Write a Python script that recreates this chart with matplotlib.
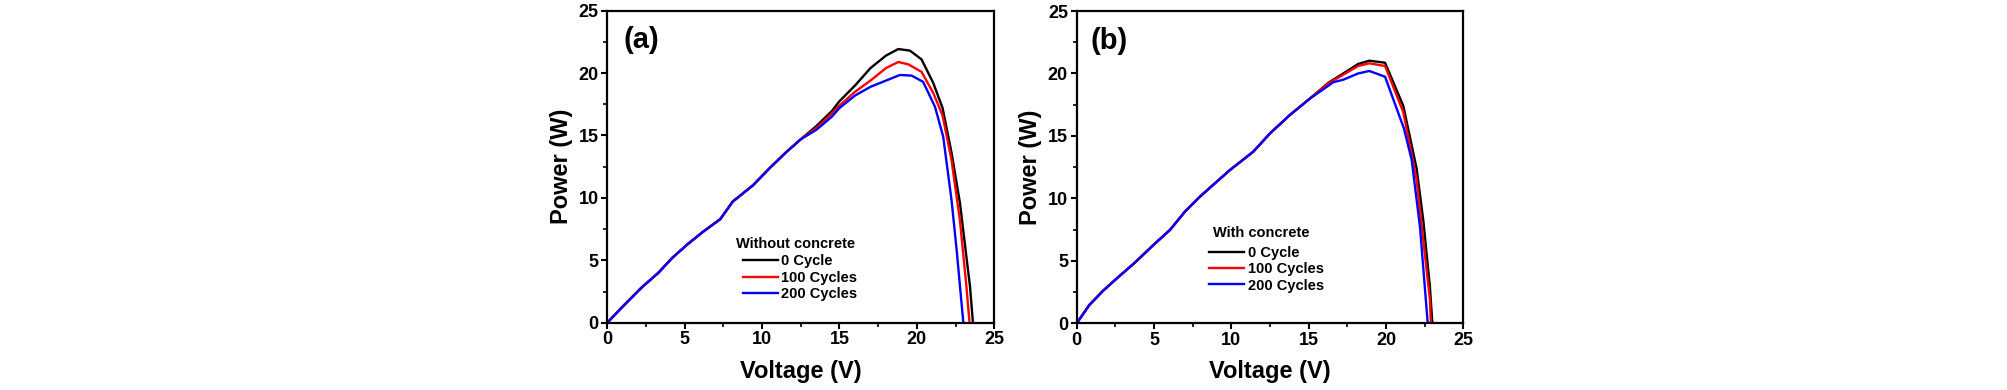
import matplotlib
matplotlib.use("Agg")
import matplotlib.pyplot as plt
from matplotlib.ticker import MultipleLocator

plt.rcParams['font.family'] = ['Liberation Sans', 'DejaVu Sans']
plt.rcParams['font.weight'] = 'bold'

# ---- Panel (a): without concrete ----
a_v_common = [0, 1.0, 2.2, 3.3, 4.2, 5.2, 6.2, 7.3, 8.1, 9.4, 10.5, 11.5, 12.5]
a_p_common = [0, 1.3, 2.8, 4.0, 5.2, 6.3, 7.3, 8.3, 9.7, 11.0, 12.4, 13.6, 14.7]

a_v0 = [13.5, 14.5, 15.0, 16.0, 17.0, 18.0, 18.8, 19.55, 20.3, 21.06, 21.66, 22.24, 22.78, 23.43, 23.62]
a_p0 = [15.75, 16.95, 17.75, 19.0, 20.4, 21.4, 21.93, 21.8, 21.1, 19.2, 17.2, 13.6, 9.6, 2.9, 0.0]

a_v100 = [13.5, 14.5, 15.0, 16.0, 17.0, 18.0, 18.8, 19.45, 20.3, 21.06, 21.66, 22.24, 22.78, 23.2, 23.4]
a_p100 = [15.6, 16.75, 17.4, 18.5, 19.4, 20.4, 20.89, 20.7, 20.1, 18.4, 16.6, 13.0, 8.2, 2.9, 0.0]

a_v200 = [13.5, 14.5, 15.0, 16.0, 17.0, 18.0, 18.9, 19.66, 20.4, 21.17, 21.7, 22.24, 22.57, 23.0]
a_p200 = [15.45, 16.5, 17.2, 18.2, 18.9, 19.4, 19.85, 19.8, 19.3, 17.3, 14.9, 9.8, 5.8, 0.0]

# ---- Panel (b): with concrete ----
b_v_common = [0, 0.82, 1.7, 2.6, 3.8, 4.96, 6.03, 7.0, 7.97, 8.84, 9.91, 11.42, 12.5, 13.79, 15.09]
b_p_common = [0, 1.47, 2.6, 3.6, 4.9, 6.27, 7.47, 8.94, 10.14, 11.1, 12.27, 13.74, 15.2, 16.68, 18.0]

b_v0 = [16.27, 17.24, 18.2, 18.92, 19.94, 21.12, 21.98, 22.41, 22.84, 23.0]
b_p0 = [19.25, 20.0, 20.76, 21.02, 20.86, 17.4, 12.4, 8.27, 2.93, 0.0]

b_v100 = [16.27, 17.24, 18.2, 18.92, 19.94, 21.12, 21.98, 22.84, 22.9]
b_p100 = [19.2, 19.9, 20.6, 20.81, 20.6, 16.9, 11.5, 1.9, 0.0]

b_v200 = [16.6, 17.24, 18.2, 18.92, 19.94, 21.16, 21.66, 22.2, 22.7]
b_p200 = [19.3, 19.5, 20.0, 20.2, 19.74, 15.6, 13.1, 7.7, 0.0]

labels = ['0 Cycle', '100 Cycles', '200 Cycles']
colors = ['black', 'red', 'blue']

fig = plt.figure(figsize=(20.08, 3.9), dpi=100)
ax_a = fig.add_axes([607.3 / 2008, (390 - 322.7) / 390, 387 / 2008, 312 / 390])
ax_b = fig.add_axes([1076.7 / 2008, (390 - 323.3) / 390, 386.6 / 2008, 312.3 / 390])

panels = [
    (ax_a, a_v_common, a_p_common, [(a_v0, a_p0), (a_v100, a_p100), (a_v200, a_p200)],
     '(a)', 'Without concrete', (0.041, 0.95), (0.3326, 0.239), (0.35, 0.2186)),
    (ax_b, b_v_common, b_p_common, [(b_v0, b_p0), (b_v100, b_p100), (b_v200, b_p200)],
     '(b)', 'With concrete', (0.036, 0.95), (0.3526, 0.276), (0.342, 0.247)),
]

for ax, vc, pc, series, tag, title, tagpos, titlepos, legpos in panels:
    handles = []
    for (v, p), lab, col in zip(series, labels, colors):
        h, = ax.plot(list(vc) + list(v), list(pc) + list(p), color=col, lw=1.7, label=lab)
        handles.append(h)
    ax.set_xlim(0, 25)
    ax.set_ylim(0, 25)
    ax.xaxis.set_major_locator(MultipleLocator(5))
    ax.yaxis.set_major_locator(MultipleLocator(5))
    ax.xaxis.set_minor_locator(MultipleLocator(2.5))
    ax.yaxis.set_minor_locator(MultipleLocator(2.5))
    ax.tick_params(which='major', direction='out', length=4.3, width=1.5, labelsize=13, pad=2)
    ax.tick_params(which='minor', direction='out', length=2.9, width=1.2)
    ax.tick_params(top=False, right=False, which='both')
    for lbl in ax.get_xticklabels() + ax.get_yticklabels():
        lbl.set_fontweight('bold')
    for s in ax.spines.values():
        s.set_linewidth(1.6)
    ax.set_xlabel('Voltage (V)', fontsize=17, fontweight='bold', labelpad=8)
    ax.set_ylabel('Power (W)', fontsize=17, fontweight='bold', labelpad=4)
    ax.text(tagpos[0], tagpos[1], tag, transform=ax.transAxes, fontsize=21,
            fontweight='bold', va='top', ha='left')
    ax.text(titlepos[0], titlepos[1], title, transform=ax.transAxes, fontsize=10.5,
            fontweight='bold', va='baseline', ha='left')
    leg = ax.legend(handles=handles, loc='upper left', bbox_to_anchor=legpos,
                    frameon=False, fontsize=10.5, handlelength=2.4, handletextpad=0.25,
                    labelspacing=0.15, borderpad=0, borderaxespad=0)
    for t in leg.get_texts():
        t.set_fontweight('bold')

fig.savefig('out.png', dpi=100)
